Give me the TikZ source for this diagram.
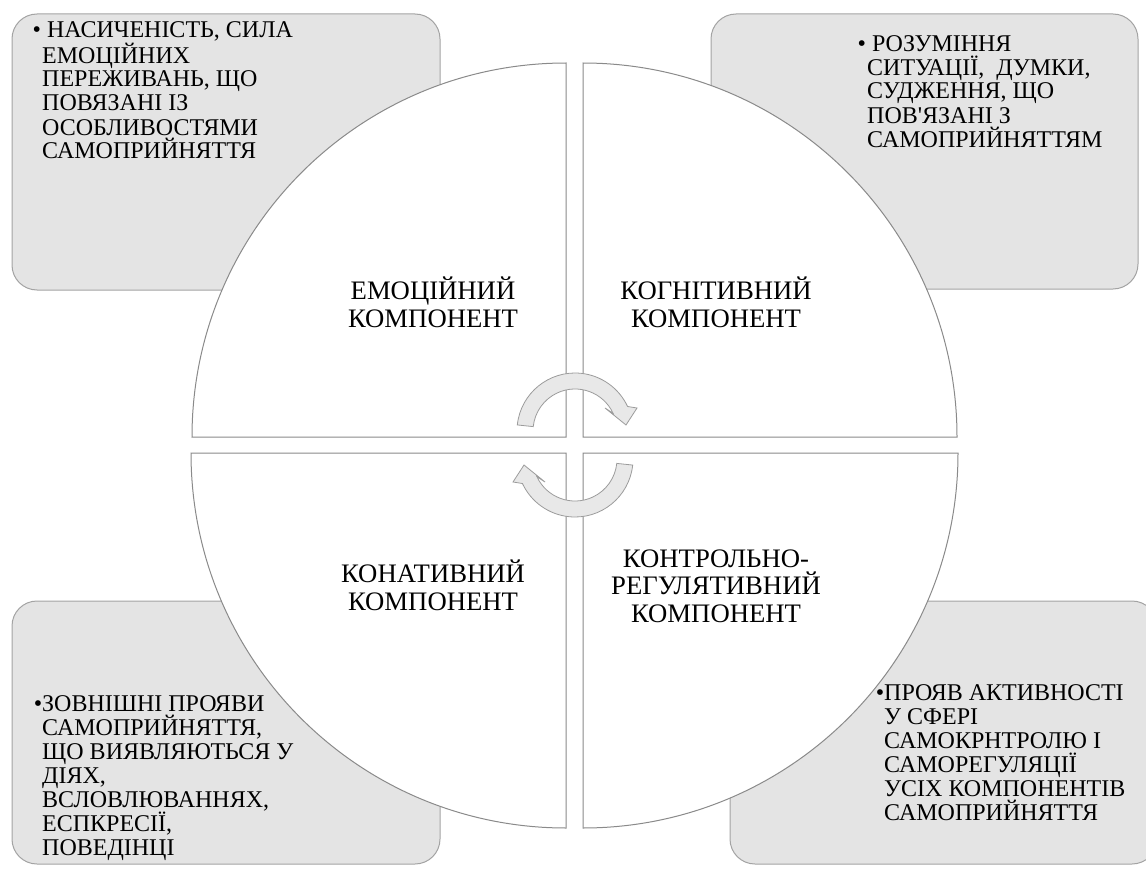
\documentclass[tikz,border=0pt]{standalone}
\usepackage{fontspec}
\setmainfont{Liberation Serif}
\usetikzlibrary{positioning}
\definecolor{boxfill}{HTML}{E4E4E4}
\definecolor{boxline}{HTML}{A3A3A3}
\definecolor{segline}{HTML}{8A8A8A}
\definecolor{arrline}{HTML}{9C9C9C}
\definecolor{arrfill}{HTML}{E8E8E8}
\newcommand{\InfoBullet}{\hspace*{-9.5pt}\textbullet\ }
\newcommand{\InfoDot}{\llap{\textbullet}}
\newcommand{\CycleArrow}{%
   \path[ArrowStyle] (186:58) arc[start angle=186, end angle=335, radius=58]
      -- (62,-23) -- (51,-6) -- (30,-23) -- (335:42)
      arc[start angle=335, end angle=186, radius=42] -- cycle;}

\begin{document}
\begin{tikzpicture}[x=1pt,y=-1pt]
   \tikzset{BoxStyle/.style={draw=boxline, fill=boxfill, line width=1pt, rounded corners=25pt}}
   \tikzset{SegmentStyle/.style={draw=segline, fill=white, line width=1pt}}
   \tikzset{ArrowStyle/.style={draw=arrline, fill=arrfill, line width=0.8pt}}
   \tikzset{InfoStyle/.style={inner sep=0pt, anchor=base west, align=left, font=\fontsize{24}{24}\selectfont}}
   \tikzset{PartStyle/.style={inner sep=0pt, anchor=base, align=center, font=\fontsize{26.7}{27.5}\selectfont}}
   \useasboundingbox (0,0) rectangle (1146,872);
   \path[BoxStyle] (12,14) rectangle (440,290);
   \path[BoxStyle] (711,14) rectangle (1138,289);
   \path[BoxStyle] (12,601) rectangle (440,864);
   \path[BoxStyle] (730,601) rectangle (1157,864);
   \path[SegmentStyle] (566,437) -- (192,437) arc[start angle=180, end angle=270, radius=374] -- cycle;
   \path[SegmentStyle] (583,437) -- (583,63) arc[start angle=270, end angle=360, radius=374] -- cycle;
   \path[SegmentStyle] (566,453) -- (566,828) arc[start angle=90, end angle=180, radius=375] -- cycle;
   \path[SegmentStyle] (583,453) -- (958,453) arc[start angle=0, end angle=90, radius=375] -- cycle;
   \begin{scope}[shift={(575,431)}]
      \CycleArrow
   \end{scope}
   \begin{scope}[shift={(575,459)}, rotate=180]
      \CycleArrow
   \end{scope}
   \node[InfoStyle] (emoinfo) at (42,159) {\InfoBullet НАСИЧЕНІСТЬ, СИЛА\\ЕМОЦІЙНИХ\\ПЕРЕЖИВАНЬ, ЩО\\ПОВЯЗАНІ ІЗ\\ОСОБЛИВОСТЯМИ\\САМОПРИЙНЯТТЯ};
   \node[InfoStyle] (coginfo) at (867,147) {\InfoBullet РОЗУМІННЯ\\СИТУАЦІЇ,\ \ ДУМКИ,\\СУДЖЕННЯ, ЩО\\ПОВ\textquotesingle ЯЗАНІ З\\САМОПРИЙНЯТТЯМ};
   \node[InfoStyle] (coninfo) at (42,855) {\InfoDot ЗОВНІШНІ ПРОЯВИ\\САМОПРИЙНЯТТЯ,\\ЩО ВИЯВЛЯЮТЬСЯ У\\ДІЯХ,\\ВСЛОВЛЮВАННЯХ,\\ЕСПКРЕСІЇ,\\ПОВЕДІНЦІ};
   \node[InfoStyle] (ctlinfo) at (884,820) {\InfoDot ПРОЯВ АКТИВНОСТІ\\У СФЕРІ\\САМОКРНТРОЛЮ І\\САМОРЕГУЛЯЦІЇ\\УСІХ КОМПОНЕНТІВ\\САМОПРИЙНЯТТЯ};
   \node[PartStyle] (emo) at (433,327) {ЕМОЦІЙНИЙ\\КОМПОНЕНТ};
   \node[PartStyle] (cog) at (716,327) {КОГНІТИВНИЙ\\КОМПОНЕНТ};
   \node[PartStyle] (con) at (433,610) {КОНАТИВНИЙ\\КОМПОНЕНТ};
   \node[PartStyle] (ctl) at (716,622) {КОНТРОЛЬНО-\\РЕГУЛЯТИВНИЙ\\КОМПОНЕНТ};
\end{tikzpicture}
\end{document}
